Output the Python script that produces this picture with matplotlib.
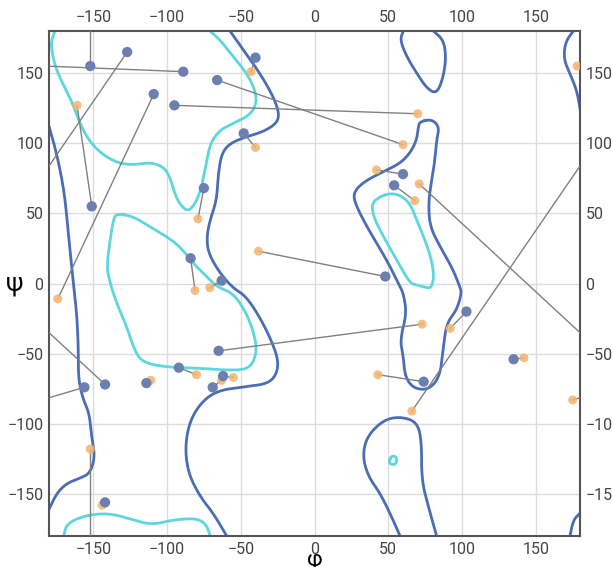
import matplotlib
matplotlib.use("Agg")
import matplotlib.pyplot as plt
import numpy as np

plt.rcParams['font.family'] = ['Roboto', 'DejaVu Sans']

# paired residues: blue (first structure) -> orange (second structure)
blue_phi = [-152, -127, -89, -109, -95, -66, -40, -48, -151, -75, 48, -84, -63,
            -65, -92, -62, -69, -114, -142, -156, -142, 60, 54, 103, 135, 74]
blue_psi = [155, 165, 151, 135, 127, 145, 161, 107, 55, 68, 5, 18, 2,
            -48, -60, -66, -74, -71, -72, -74, -156, 78, 70, -20, -54, -70]
orange_phi = [-152, 66, 178, -174, 70, 60, -43, -40, -161, -79, -38, -81, -71,
              73, -80, -55, -63, -111, 71, 175, -144, 42, 68, 92, 142, 43]
orange_psi = [-118, -91, 155, -11, 121, 99, 151, 97, 127, 46, 23, -5, -3,
              -29, -65, -67, -69, -69, 71, -83, -158, 81, 59, -32, -53, -65]
# which pairs are joined across the periodic border
wrap = ['psi', 'phi', 'phi', '', '', '', '', '', '', '', '', '', '',
        '', '', '', '', '', 'phi', 'phi', '', '', '', '', '', '']

ticks = [-150, -100, -50, 0, 50, 100, 150]

# contour traces, (phi, psi)
cyan_top = [(-176, 180), (-179, 171), (-176, 155), (-171, 143), (-165, 131), (-159, 114),
            (-153, 102), (-145, 93), (-134, 86), (-123, 84.5), (-111.5, 86.4), (-102.5, 83.3),
            (-98, 76), (-93.4, 59.5), (-86.6, 51.2), (-82.2, 54.8), (-77.6, 64.3), (-74.2, 81),
            (-70.8, 100), (-64.1, 109.4), (-55, 114.2), (-43.7, 120.1), (-39.2, 128.5),
            (-40.3, 138), (-46, 149.9), (-55, 161.7), (-64, 173.6), (-70.8, 180)]
cyan_bottom = [(-170, -180), (-168, -171), (-154.5, -165), (-138.6, -163.8), (-122.8, -168.5),
               (-110.4, -172), (-95.7, -168.5), (-79.9, -167.3), (-73.1, -172), (-70.8, -180)]
cyan_alpha = [(-134.1, 50), (-122.8, 47.7), (-111.5, 40.5), (-100.2, 33.4), (-91.2, 26.3),
              (-82.2, 14.4), (-73.1, 4.9), (-66.3, -2.3), (-55, -7), (-46, -21.2),
              (-40.3, -37.9), (-39.2, -49.7), (-43.7, -60.4), (-55, -62.1), (-77.6, -60.4),
              (-100.2, -59.7), (-116.1, -56.4), (-121.7, -48.6), (-127.3, -30.8),
              (-134.1, -14.1), (-138.6, 0.2), (-140.9, 12), (-138.6, 31), (-136.4, 45.3)]
cyan_left_handed = [(44.4, 61.9), (51.2, 64.3), (58, 63.1), (64.7, 57.2), (69.3, 45.3),
                    (74.9, 31), (79.4, 16.8), (81, 4.9), (79.4, -2.3), (77.2, -3.4),
                    (69.3, -1), (64.7, 0.2), (55.7, 16.8), (46.7, 33.4), (39.9, 47.7),
                    (38.8, 57.2)]
cyan_small = [(50.7, -127), (51.7, -123.4), (54.6, -122.9), (56.1, -125.8),
              (54.6, -129.3), (51.2, -128.6)]

navy_main = [(-57.3, 180), (-48.3, 166.5), (-37, 149.9), (-27.9, 133.2), (-23.9, 121.3),
             (-25.6, 114.2), (-34.7, 108.2), (-46, 104.7), (-57.3, 100), (-62.9, 92.8),
             (-65.2, 78.6), (-66.3, 59.5), (-70.8, 45.3), (-73.1, 33.4), (-72, 21.6),
             (-64.1, 7.3), (-55, -3.4), (-46, -9.4), (-34.7, -28.3), (-25.6, -49.7),
             (-24.5, -61.6), (-30.2, -71.1), (-46, -73.5), (-64.1, -75.9), (-75.4, -83),
             (-84.4, -97.3), (-87.8, -116.3), (-85.6, -135.3), (-77.6, -151.9),
             (-68.6, -163.8), (-59.5, -180)]
navy_left = [(-180, 112), (-174.8, 92.8), (-169.6, 65.5), (-166.9, 35.8), (-163.5, 0.2),
             (-161.2, -21.2), (-160.1, -45), (-160.1, -68.8), (-156.7, -83), (-152.7, -92.5),
             (-151.1, -109.2), (-148.8, -123.4), (-152.2, -135.3), (-159, -138.8),
             (-168, -142.4), (-174.8, -149.5), (-180, -161)]
navy_right_top = [(175.5, 180), (170, 172), (169, 160), (173, 150), (177.7, 138), (180, 125)]
navy_right_bottom = [(173.2, -180), (175.5, -168.5), (180, -163.8)]
navy_top_loop = [(60.2, 180), (58, 173.6), (62.5, 161.7), (69.3, 149.9), (76.1, 139.2),
                 (82.9, 135.1), (87.4, 147.4), (89.2, 161.7), (87.4, 173.6), (80.6, 180)]
navy_bottom_loop = [(58, -180), (51.2, -163.8), (44.4, -149.5), (36.5, -137.6),
                    (32.6, -123.4), (35.4, -109.2), (46.7, -97.3), (58, -94.9), (69.3, -98.5),
                    (72.6, -111.5), (72.6, -140), (77.2, -159), (82.8, -180)]
navy_left_handed = [(71.5, 115.4), (79.4, 117.1), (84.6, 111.8), (82.8, 102.3), (81.7, 88.1),
                    (79.4, 73.8), (77.2, 57.2), (78.3, 40.5), (85.1, 26.3), (93, 12),
                    (98.6, -2.3), (99.7, -7), (96.4, -18.9), (89.6, -28.3), (87.4, -45),
                    (85.1, -66.4), (77.2, -75.9), (67, -74.7), (61.4, -66.4), (60.2, -52.1),
                    (58, -40.2), (62.5, -21.2), (60.2, -7), (58, -2.3), (49, 16.8),
                    (35.4, 40.5), (26.4, 59.5), (27.5, 66.7), (35.4, 73.8), (49, 80.9),
                    (58, 85.7), (64.7, 92.8), (69.3, 102.3), (70.4, 111.8)]

NAVY = '#4a6db5'
CYAN = '#5dd6dc'


def smooth(pts, closed, n=3):
    # chaikin corner cutting
    p = np.array(pts, dtype=float)
    for _ in range(n):
        a = p
        b = np.roll(p, -1, axis=0) if closed else p[1:]
        if not closed:
            a = p[:-1]
        mid = np.empty((2 * len(a), 2))
        mid[0::2] = 0.75 * a + 0.25 * b
        mid[1::2] = 0.25 * a + 0.75 * b
        p = mid if closed else np.vstack([p[:1], mid, p[-1:]])
    if closed:
        p = np.vstack([p, p[:1]])
    return p


fig = plt.figure(figsize=(6.12, 5.67), dpi=100)
ax = fig.add_axes([49 / 612, 1 - 536 / 567, 531 / 612, 505 / 567])

for c in [cyan_top, cyan_bottom]:
    s = smooth(c, False)
    ax.plot(s[:, 0], s[:, 1], color=CYAN, lw=2, zorder=2)
for c in [cyan_alpha, cyan_left_handed, cyan_small]:
    s = smooth(c, True)
    ax.plot(s[:, 0], s[:, 1], color=CYAN, lw=2, zorder=2)
for c in [navy_main, navy_left, navy_right_top, navy_right_bottom, navy_top_loop, navy_bottom_loop]:
    s = smooth(c, False)
    ax.plot(s[:, 0], s[:, 1], color=NAVY, lw=2, zorder=2)
s = smooth(navy_left_handed, True)
ax.plot(s[:, 0], s[:, 1], color=NAVY, lw=2, zorder=2)

# connecting lines, split at the border when the pair wraps around
for bx, by, ox, oy, w in zip(blue_phi, blue_psi, orange_phi, orange_psi, wrap):
    dx = ox - bx
    dy = oy - by
    if w == 'phi':
        dx = (dx + 180) % 360 - 180
    if w == 'psi':
        dy = (dy + 180) % 360 - 180
    ax.plot([bx, bx + dx], [by, by + dy], color='#808080', lw=1, zorder=3)
    if w:
        ax.plot([ox - dx, ox], [oy - dy, oy], color='#808080', lw=1, zorder=3)

ax.scatter(orange_phi, orange_psi, s=42, color='#f4b46e', alpha=0.85, edgecolors='none', zorder=4)
ax.scatter(blue_phi, blue_psi, s=55, color='#6c7fae', edgecolors='none', zorder=5)

ax.set_xlim(-180, 180)
ax.set_ylim(-180, 180)
ax.set_xticks(ticks)
ax.set_yticks(ticks)
ax.grid(True, color='#dcdcdc', lw=1)
ax.set_axisbelow(True)
ax.tick_params(length=0, labelsize=11.5, labelcolor='#444444', pad=4,
               top=True, labeltop=True, right=True, labelright=True)
for sp in ax.spines.values():
    sp.set_color('#555555')
    sp.set_linewidth(1.5)

ax.set_xlabel('φ', fontsize=16)
ax.xaxis.set_label_coords(0.5, -0.027)
ax.set_ylabel('ψ', fontsize=18, rotation=0, va='center', ha='center')
ax.yaxis.set_label_coords(-0.064, 0.5)

fig.savefig('out.png', dpi=100)
